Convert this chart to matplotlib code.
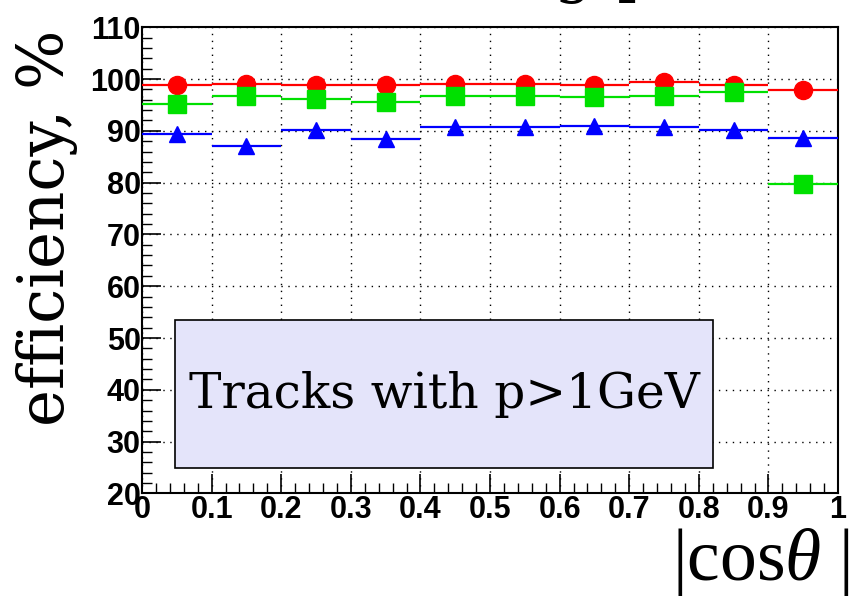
import numpy as np
import matplotlib
matplotlib.use("Agg")
import matplotlib.pyplot as plt
from matplotlib.ticker import MultipleLocator
from matplotlib.patches import Rectangle

# data
bin_centers = [0.05, 0.15, 0.25, 0.35, 0.45, 0.55, 0.65, 0.75, 0.85, 0.95]
red_eff   = [98.8, 99.0, 98.8, 98.8, 99.0, 99.0, 98.8, 99.4, 98.8, 97.8]
green_eff = [95.2, 96.8, 96.1, 95.5, 96.8, 96.8, 96.5, 96.8, 97.4, 79.7]
blue_eff  = [89.4, 87.0, 90.1, 88.4, 90.7, 90.7, 91.0, 90.7, 90.1, 88.7]
x_ticks = [0, 0.1, 0.2, 0.3, 0.4, 0.5, 0.6, 0.7, 0.8, 0.9, 1]
x_ticklabels = ["0", "0.1", "0.2", "0.3", "0.4", "0.5", "0.6", "0.7", "0.8", "0.9", "1"]
y_ticks = [20, 30, 40, 50, 60, 70, 80, 90, 100, 110]

plt.rcParams['mathtext.fontset'] = 'custom'
plt.rcParams['mathtext.rm'] = 'Liberation Serif'
plt.rcParams['mathtext.it'] = 'Liberation Serif:italic'

fig = plt.figure(figsize=(8.52, 5.98), dpi=100)
ax = fig.add_axes([0.1667, 0.1749, 0.8169, 0.7796])
ax.set_xlim(0, 1)
ax.set_ylim(20, 110)

half = 0.05
series = [
    (red_eff, '#ff0000', 'o', 13),
    (green_eff, '#00e000', 's', 12.5),
    (blue_eff, '#0000ff', '^', 12),
]
for vals, col, mk, ms in series:
    ax.errorbar(bin_centers, vals, xerr=half, fmt=mk, color=col, ms=ms,
                mec=col, mfc=col, elinewidth=1.6, capsize=0, zorder=3)

ax.set_xticks(x_ticks)
ax.set_xticklabels(x_ticklabels)
ax.set_yticks(y_ticks)
ax.xaxis.set_minor_locator(MultipleLocator(0.02))
ax.yaxis.set_minor_locator(MultipleLocator(2))
ax.tick_params(axis='both', which='major', direction='in', length=14, width=1.2,
               labelsize=22, pad=1)
ax.tick_params(axis='both', which='minor', direction='in', length=7, width=1.0)
for lab in ax.get_xticklabels() + ax.get_yticklabels():
    lab.set_fontfamily('Liberation Sans')
    lab.set_fontweight('bold')
ax.grid(True, which='major', linestyle=(0, (1, 4)), color='black', linewidth=1.0)
for sp in ax.spines.values():
    sp.set_linewidth(1.5)

# text box
ax.add_patch(Rectangle((0.047, 25.0), 0.774, 28.5, facecolor='#e4e4fa',
                       edgecolor='black', linewidth=1.2, zorder=4))
ax.text(0.434, 39.0, "Tracks with p>1GeV", fontfamily='DejaVu Serif', fontsize=35,
        ha='center', va='center', zorder=5)

fig.text(0.055, 0.619, "efficiency, %", rotation=90, fontfamily='DejaVu Serif',
         fontsize=45, ha='center', va='center')
fig.text(0.997, 0.0, r"$|\mathrm{cos}\mathit{\theta}\,\,|$", fontsize=53,
         ha='right', va='bottom')
fig.text(0.974, 1 + 10/598, "log(p/GeV)", fontfamily='DejaVu Serif', fontsize=44,
         ha='right', va='baseline')

fig.savefig("out.png", dpi=100)
